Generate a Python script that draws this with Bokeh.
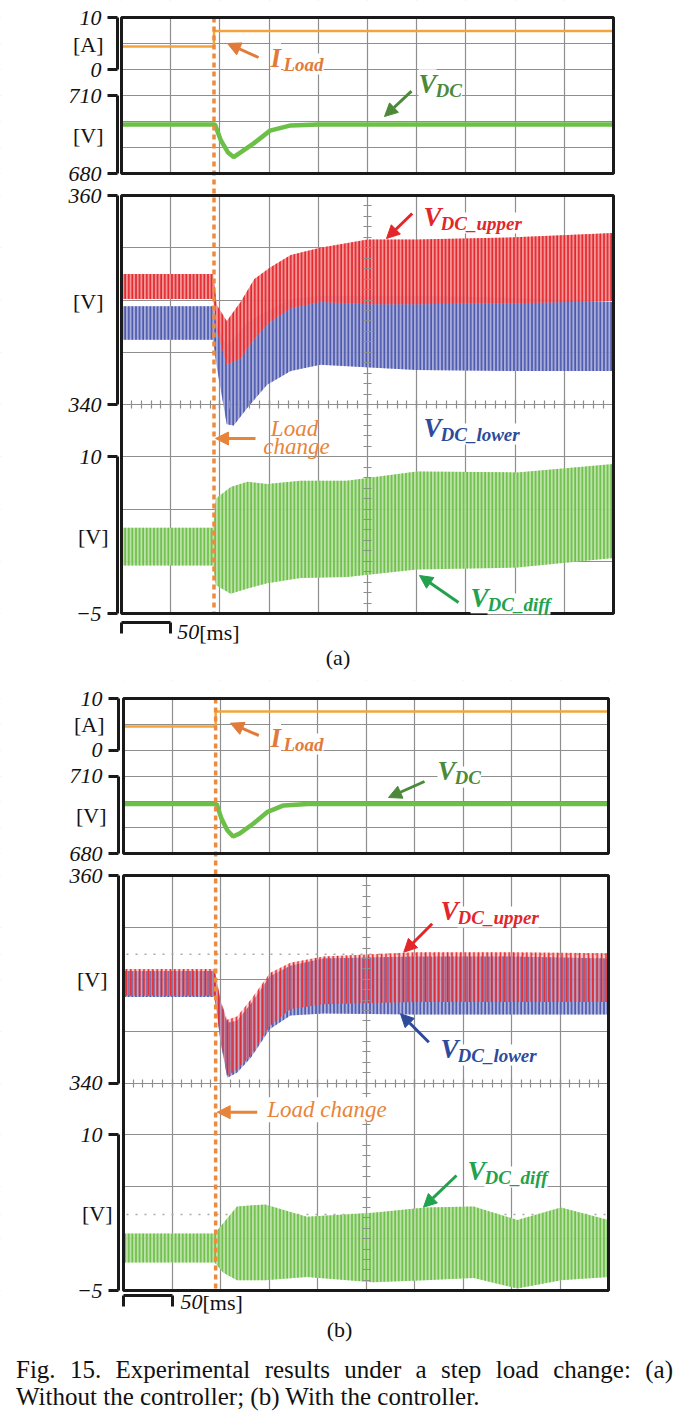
from bokeh.plotting import figure
from bokeh.models import (Range1d, LinearAxis, FixedTicker, SingleIntervalTicker, Span, Grid,
                          BoxAnnotation, Label, Arrow, NormalHead, Div, CustomJSTickFormatter)
from bokeh.layouts import column
from bokeh.embed import file_html
from bokeh.resources import INLINE

# ---------------- data ----------------
# time axis in ms: 10 divisions of 50 ms
LOAD_STEP_A = 94
LOAD_STEP_B = 95

# (a) without the controller
i_load_a_t = [0, 94, 94, 500]
i_load_a = [4.4, 4.4, 7.4, 7.4]
vdc_a_t = [0, 95, 101, 108, 114, 121, 134, 151, 172, 200, 500]
vdc_a = [698.8, 698.8, 692.7, 688.2, 686.3, 688.1, 691.5, 696.5, 698.5, 698.8, 698.8]
upper_a_t = [0, 93, 97, 107, 121, 135, 151, 172, 202, 250, 300, 400, 500]
upper_a_max = [352.5, 352.5, 349.5, 348.0, 349.8, 352.0, 353.1, 354.3, 355.0, 355.8, 355.8, 356.0, 356.4]
upper_a_min = [350.1, 350.1, 347.0, 343.8, 344.4, 346.3, 347.9, 349.2, 349.8, 349.6, 349.6, 349.7, 349.9]
lower_a_t = [0, 93, 97, 107, 114, 128, 148, 172, 202, 300, 400, 500]
lower_a_max = [349.4, 349.4, 347.5, 345.7, 346.3, 347.9, 348.9, 350.1, 350.4, 350.4, 350.2, 349.8]
lower_a_min = [346.2, 346.2, 343.5, 338.1, 338.0, 339.7, 341.9, 343.2, 343.8, 343.3, 343.2, 343.2]
diff_a_t = [0, 93, 96, 111, 128, 148, 182, 229, 300, 402, 500]
diff_a_max = [3.2, 3.2, 6.0, 7.1, 7.6, 7.4, 7.7, 7.7, 8.6, 8.5, 9.3]
diff_a_min = [-0.4, -0.4, -2.3, -3.1, -2.6, -2.1, -1.6, -1.5, -0.8, -0.6, 0.3]

# (b) with the controller
i_load_b_t = [0, 95, 95, 500]
i_load_b = [4.6, 4.6, 7.5, 7.5]
vdc_b_t = [0, 96, 101, 107, 113, 120, 134, 148, 165, 190, 500]
vdc_b = [699.2, 699.2, 693.5, 689.0, 686.6, 687.8, 691.6, 696.0, 698.6, 699.2, 699.2]
upper_b_t = [0, 94, 100, 107, 117, 131, 151, 172, 206, 300, 400, 500]
upper_b_max = [351.0, 351.0, 348.0, 346.1, 346.4, 348.0, 350.6, 351.6, 352.2, 352.6, 352.6, 352.5]
upper_b_min = [348.4, 348.4, 344.2, 340.7, 341.3, 342.6, 345.5, 347.1, 347.6, 347.8, 347.8, 347.8]
lower_b_t = [0, 94, 100, 107, 117, 131, 151, 172, 206, 300, 400, 500]
lower_b_max = [350.8, 350.8, 347.8, 345.8, 346.0, 347.6, 350.3, 351.3, 352.0, 352.2, 352.2, 352.0]
lower_b_min = [348.3, 348.3, 344.0, 340.5, 341.0, 342.4, 345.2, 346.5, 346.7, 346.6, 346.6, 346.6]
diff_b_t = [0, 94, 103, 117, 146, 189, 257, 311, 361, 406, 451, 500]
diff_b_max = [0.5, 0.5, 1.5, 3.1, 3.3, 2.1, 2.5, 3.0, 3.1, 1.8, 3.0, 1.8]
diff_b_min = [-2.3, -2.3, -3.3, -4.0, -4.0, -3.7, -4.2, -4.0, -3.8, -4.8, -4.0, -3.7]
ref_level_b = 352.4
ref_diff_b = 2.33

# ---------------- styles / layout ----------------
SERIF = "Liberation Serif"
C_GRID = "#8e8e8e"
C_FRAME = "#1a1a1a"
C_TXT = "#111111"
C_I = "#F3A53B"
C_VDC = "#6CBF47"
C_UP, C_UP_FILL = "#E5262B", "#F08A8C"
C_LO, C_LO_FILL = "#4B58AC", "#9DA3D6"
C_DIFF, C_DIFF_FILL = "#6CBF47", "#B5DFA0"
C_DASH = "#EC8A3E"
C_T_I = "#E07B39"
C_T_VDC = "#4C8A3A"
C_T_UP = "#E3262A"
C_T_LO = "#2E4B9B"
C_T_DIFF = "#22A24C"
C_T_LOAD = "#E8843A"
W = 680

# page-pixel geometry of the two panels (screen boxes)
GEOM_A = dict(left=121, right=613, top_box=(17, 173), main_box=(195, 613),
              canvas=(0, 680), bracket_px=4)
GEOM_B = dict(left=123, right=608, top_box=(698, 853), main_box=(875, 1290),
              canvas=(680, 1351), bracket_px=5)


def px_map(p0, v0, p1, v1):
    k = (v1 - v0) / (p1 - p0)
    return lambda px: v0 + (px - p0) * k


def no_labels():
    return CustomJSTickFormatter(code="return ''")


def add_text(p, x, y, text, size, color, style="normal", align="left", on_baseline=True,
             dx=0, dy=0, bg=None):
    # text is centred vertically; shift it up so that (x, y) lies on its baseline
    lift = 0.34 * size if on_baseline else 0
    lab = Label(x=x, y=y, text=text, x_offset=dx, y_offset=dy + lift,
                text_font=SERIF, text_font_size=f"{size}px", text_font_style=style,
                text_color=color, text_align=align, text_baseline="middle")
    if bg:
        lab.background_fill_color = bg
    p.add_layout(lab)


def add_symbol(p, x, y, main, sub, color, dx, main_size=27, sub_size=19):
    add_text(p, x, y, sub, sub_size, color, "bold italic", dx=dx, dy=-3, bg="white")
    add_text(p, x, y, main, main_size, color, "bold italic", bg="white")


def add_arrow(p, x0, y0, x1, y1, color):
    p.add_layout(Arrow(x_start=x0, y_start=y0, x_end=x1, y_end=y1,
                       line_color=color, line_width=3,
                       end=NormalHead(size=13, fill_color=color, line_color=color, line_width=1)))


def bracket_axis(p, loc, lo, hi, rng="default"):
    ax = LinearAxis(fixed_location=loc, bounds=(lo, hi), ticker=FixedTicker(ticks=[lo, hi]),
                    y_range_name=rng,
                    axis_line_width=3, axis_line_color=C_FRAME,
                    major_tick_line_width=3, major_tick_line_color=C_FRAME,
                    major_tick_out=10, major_tick_in=0, minor_tick_out=0, minor_tick_in=0,
                    major_label_standoff=6, major_label_text_font=SERIF,
                    major_label_text_font_style="italic", major_label_text_font_size="22px",
                    major_label_text_color=C_TXT)
    p.add_layout(ax, "left")


def center_ticks(p, side, loc, interval, bounds):
    ax = LinearAxis(fixed_location=loc, bounds=bounds,
                    ticker=SingleIntervalTicker(interval=interval, num_minor_ticks=5),
                    axis_line_color=None, major_tick_in=4, major_tick_out=4,
                    minor_tick_in=4, minor_tick_out=4,
                    major_tick_line_color=C_GRID, minor_tick_line_color=C_GRID,
                    major_tick_line_width=1.2, minor_tick_line_width=1.2,
                    formatter=no_labels())
    p.add_layout(ax, side)


def box(p, ylo, yhi, rng="default"):
    p.add_layout(BoxAnnotation(left=0, right=500, bottom=ylo, top=yhi, y_range_name=rng,
                               fill_alpha=0, line_color=C_FRAME, line_alpha=1.0, line_width=3))


def panel(g, step, i_t, i_v, v_t, v_v, up, lo, df, ann, overlap, tag):
    c0, c1 = g["canvas"]
    t0, t1 = g["top_box"]
    m0, m1 = g["main_box"]
    tx = px_map(g["left"], 0, g["right"], 500)
    fu = px_map(m0, 360, m1, 320)      # upper / lower voltages
    fd = px_map(m0, 35, m1, -5)        # difference voltage
    fi = px_map(t0, 10, t1, -20)       # load current
    fv = px_map(t0, 740, t1, 680)      # dc-link voltage

    p = figure(width=W, height=c1 - c0, x_range=Range1d(tx(0), tx(W)),
               y_range=Range1d(fu(c1), fu(c0)),
               min_border=0, min_border_left=0, min_border_right=0, min_border_top=0,
               min_border_bottom=0, x_axis_location=None, y_axis_location=None,
               toolbar_location=None, output_backend="svg", title=None, outline_line_color=None)
    p.extra_y_ranges = {"diff": Range1d(fd(c1), fd(c0)), "cur": Range1d(fi(c1), fi(c0)),
                        "vdc": Range1d(fv(c1), fv(c0))}

    # grids (screen divisions)
    p.xgrid.ticker = SingleIntervalTicker(interval=50)
    p.xgrid.bounds = (0, 500)
    p.ygrid.ticker = SingleIntervalTicker(interval=5)
    p.ygrid.bounds = (320, 360)
    p.add_layout(Grid(dimension=1, y_range_name="cur", ticker=SingleIntervalTicker(interval=5),
                      bounds=(-20, 10)))
    p.grid.grid_line_color = C_GRID
    p.grid.grid_line_width = 1.2
    p.grid.grid_line_alpha = 1.0
    for lvl, rng in ann.get("ref", []):
        p.add_layout(Span(location=lvl, dimension="width", y_range_name=rng, line_color="#a8a8a8",
                          line_width=1.5, line_dash="2 7", level="underlay"))
    # white out everything outside the two screen boxes
    xs, xe = p.x_range.start, p.x_range.end
    ys, ye = p.y_range.start, p.y_range.end
    dx_, dy_ = xe - xs, ye - ys
    white = dict(fill_color="white", fill_alpha=1.0, line_alpha=0, level="underlay")
    for (l, r, b, t) in [(xs - dx_, 0, ys - dy_, ye + dy_), (500, xe + dx_, ys - dy_, ye + dy_),
                         (xs - dx_, xe + dx_, fu(t0), ye + dy_), (xs - dx_, xe + dx_, 360, fu(t1)),
                         (xs - dx_, xe + dx_, ys - dy_, 320)]:
        p.add_layout(BoxAnnotation(left=l, right=r, bottom=b, top=t, **white))

    center_ticks(p, "below", 340, 50, (0, 500))
    center_ticks(p, "left", 250, 5, (320, 360))

    # traces
    p.line(i_t, i_v, y_range_name="cur", line_color=C_I, line_width=2.5)
    p.line(v_t, v_v, y_range_name="vdc", line_color=C_VDC, line_width=4.5)
    lo_alpha, up_alpha = (0.9, 0.9) if not overlap else (0.8, 0.35)
    p.varea(x=lo[0], y1=lo[2], y2=lo[1], fill_color=C_LO_FILL, fill_alpha=lo_alpha,
            hatch_pattern="vertical_line", hatch_color=C_LO, hatch_scale=3.6, hatch_weight=1.7)
    p.varea(x=up[0], y1=up[2], y2=up[1], fill_color=C_UP_FILL, fill_alpha=up_alpha,
            hatch_pattern="vertical_line", hatch_color=C_UP, hatch_scale=4.4 if overlap else 3.6,
            hatch_weight=1.7)
    p.varea(x=df[0], y1=df[2], y2=df[1], y_range_name="diff", fill_color=C_DIFF_FILL,
            fill_alpha=0.9, hatch_pattern="vertical_line", hatch_color=C_DIFF, hatch_scale=3.6,
            hatch_weight=1.7)
    # load-change marker
    p.segment(x0=[step], y0=[fu(t0)], x1=[step], y1=[320], line_color=C_DASH,
              line_width=3.5, line_dash="5 4")

    box(p, -20, 10, "cur")
    box(p, 320, 360)

    loc = tx(g["left"] - g["bracket_px"])
    bracket_axis(p, loc, 0, 10, "cur")
    bracket_axis(p, loc, 680, 710, "vdc")
    bracket_axis(p, loc, 340, 360)
    bracket_axis(p, loc, -5, 10, "diff")
    for (ux, uy, txt) in ann["units"]:
        add_text(p, tx(ux), fu(uy), txt, 22, C_TXT, align="right", on_baseline=False)

    x, y = ann["I"]
    add_symbol(p, tx(x), fu(y), "I", "Load", C_T_I, 13)
    x0, y0, x1, y1 = ann["I_arrow"]
    add_arrow(p, tx(x0), fu(y0), tx(x1), fu(y1), C_T_I)
    x, y = ann["VDC"]
    add_symbol(p, tx(x), fu(y), "V", "DC", C_T_VDC, 17)
    x0, y0, x1, y1 = ann["VDC_arrow"]
    add_arrow(p, tx(x0), fu(y0), tx(x1), fu(y1), C_T_VDC)

    x, y = ann["up"]
    add_symbol(p, tx(x), fu(y), "V", "DC_upper", C_T_UP, 17)
    x0, y0, x1, y1 = ann["up_arrow"]
    add_arrow(p, tx(x0), fu(y0), tx(x1), fu(y1), C_T_UP)
    x, y = ann["lo"]
    add_symbol(p, tx(x), fu(y), "V", "DC_lower", C_T_LO, 17)
    if "lo_arrow" in ann:
        x0, y0, x1, y1 = ann["lo_arrow"]
        add_arrow(p, tx(x0), fu(y0), tx(x1), fu(y1), C_T_LO)
    x, y = ann["diff"]
    add_symbol(p, tx(x), fu(y), "V", "DC_diff", C_T_DIFF, 17)
    x0, y0, x1, y1 = ann["diff_arrow"]
    add_arrow(p, tx(x0), fu(y0), tx(x1), fu(y1), C_T_DIFF)
    for (x, y, txt, align, bg) in ann["load"]:
        add_text(p, tx(x), fu(y), txt, 23, C_T_LOAD, "italic", align=align, bg=bg)
    x0, y0, x1, y1 = ann["load_arrow"]
    add_arrow(p, tx(x0), fu(y0), tx(x1), fu(y1), C_T_LOAD)

    # 50 ms scale bar
    sb = LinearAxis(fixed_location=fu(ann["scale_y"]), bounds=(0, 50), ticker=FixedTicker(ticks=[0, 50]),
                    axis_line_width=3, axis_line_color=C_FRAME, major_tick_out=11, major_tick_in=0,
                    major_tick_line_width=3, major_tick_line_color=C_FRAME,
                    minor_tick_out=0, minor_tick_in=0, formatter=no_labels())
    p.add_layout(sb, "below")
    sx, sy = ann["scale_text"]
    add_text(p, tx(sx), fu(sy), "50", 22, C_TXT, "italic")
    add_text(p, tx(sx), fu(sy), "[ms]", 22, C_TXT, dx=22)
    tgx, tgy = ann["tag"]
    add_text(p, tx(tgx), fu(tgy), tag, 22, C_TXT, align="center")
    return p


# ---------------- panel (a) ----------------
fig_a = panel(GEOM_A, LOAD_STEP_A, i_load_a_t, i_load_a, vdc_a_t, vdc_a,
              (upper_a_t, upper_a_max, upper_a_min), (lower_a_t, lower_a_max, lower_a_min),
              (diff_a_t, diff_a_max, diff_a_min), {
    "units": [(103, 44, "[A]"), (103, 135, "[V]"), (103, 301, "[V]"), (108, 536, "[V]")],
    "I": (270, 67), "I_arrow": (258, 57, 227, 43),
    "VDC": (418, 93), "VDC_arrow": (411, 90.7, 384, 116),
    "up": (423, 226), "up_arrow": (411.7, 213, 386, 238),
    "lo": (423, 437),
    "diff": (470, 607), "diff_arrow": (458, 602, 419, 575),
    "load": [(294, 436, "Load", "center", None), (296, 454, "change", "center", None)],
    "load_arrow": (255, 438, 215, 438),
    "scale_y": 621.7, "scale_text": (176.7, 639), "tag": (337.5, 664),
}, False, "(a)")

# ---------------- panel (b) ----------------
fig_b = panel(GEOM_B, LOAD_STEP_B, i_load_b_t, i_load_b, vdc_b_t, vdc_b,
              (upper_b_t, upper_b_max, upper_b_min), (lower_b_t, lower_b_max, lower_b_min),
              (diff_b_t, diff_b_max, diff_b_min), {
    "units": [(104, 724, "[A]"), (106, 815, "[V]"), (107, 979, "[V]"), (112, 1213, "[V]")],
    "ref": [(ref_level_b, "default"), (ref_diff_b, "diff")],
    "I": (270, 747), "I_arrow": (258.3, 735, 230, 722.7),
    "VDC": (437, 780), "VDC_arrow": (424, 781, 388, 797),
    "up": (440, 920), "up_arrow": (431.7, 923.3, 403.3, 951.7),
    "lo": (440, 1058), "lo_arrow": (428.3, 1041.7, 400, 1013.3),
    "diff": (467, 1180), "diff_arrow": (456, 1175, 423, 1206.7),
    "load": [(266.7, 1117, "Load change", "left", "white")],
    "load_arrow": (256.7, 1111.7, 216.7, 1111.7),
    "scale_y": 1295, "scale_text": (180, 1309), "tag": (339, 1336),
}, True, "(b)")

caption = Div(
    text=('<div style="width:657px;margin-left:11px;font-family:\'Liberation Serif\',serif;'
          'font-size:25px;line-height:27px;color:#111;">'
          '<div style="width:657px;text-align:justify;text-align-last:justify;">'
          'Fig. 15. Experimental results under a step load change: (a)</div>'
          '<div>Without the controller; (b) With the controller.</div></div>'),
    width=W, height=54)

layout = column(fig_a, fig_b, caption, spacing=0)
open("out.html", "w").write(file_html(layout, INLINE))
